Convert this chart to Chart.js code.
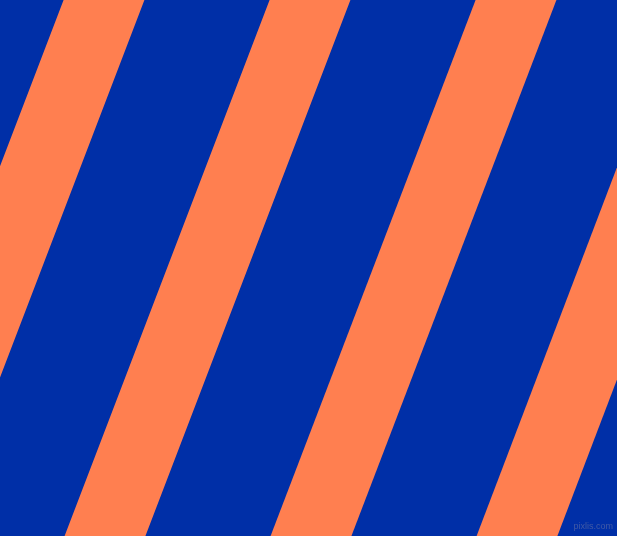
<!DOCTYPE html>
<html>
<head>
<meta charset="utf-8">
<script src="https://cdn.jsdelivr.net/npm/chart.js@4/dist/chart.umd.min.js"></script>
<style>
  html, body { margin: 0; padding: 0; background: #002FA7; overflow: hidden; }
  #wrap { position: relative; width: 617px; height: 536px; }
</style>
</head>
<body>
<div id="wrap"><canvas id="stripes"></canvas></div>
<script>
// Stripe centre lines: x where each stripe meets the top edge and the bottom edge
const stripeNames = ['stripe 1', 'stripe 2', 'stripe 3', 'stripe 4'];
const stripeTopX = [104, 310, 516, 721];
const stripeBottomX = [-101, 105, 311, 517];
const edgeY = [0, 536];

const blue = '#002FA7';
const coral = '#FF7F50';

// simple plugin for the small watermark in the corner
const watermark = {
    id: 'watermark',
    afterDraw(chart) {
        const c = chart.ctx;
        c.save();
        c.font = '9px "Liberation Sans", Arial, sans-serif';
        c.fillStyle = 'rgba(140, 140, 165, 0.45)';
        c.textAlign = 'right';
        c.textBaseline = 'alphabetic';
        c.fillText('pixlis.com', 613, 529);
        c.restore();
    }
};

const datasets = stripeNames.map((name, i) => ({
    label: name,
    data: [
        { x: stripeTopX[i], y: edgeY[0] },
        { x: stripeBottomX[i], y: edgeY[1] }
    ],
    showLine: true,
    borderColor: coral,
    borderWidth: 75.5,
    borderCapStyle: 'square',
    pointRadius: 0,
    pointHoverRadius: 0,
    clip: 0
}));

new Chart(document.getElementById('stripes'), {
    type: 'scatter',
    data: { datasets: datasets },
    options: {
        responsive: true,
        maintainAspectRatio: false,
        animation: false,
        events: [],
        layout: { padding: 0 },
        plugins: {
            legend: { display: false },
            tooltip: { enabled: false }
        },
        scales: {
            x: { type: 'linear', min: 0, max: 617, display: false },
            y: { type: 'linear', min: 0, max: 536, reverse: true, display: false }
        }
    },
    plugins: [watermark]
});
</script>
</body>
</html>
